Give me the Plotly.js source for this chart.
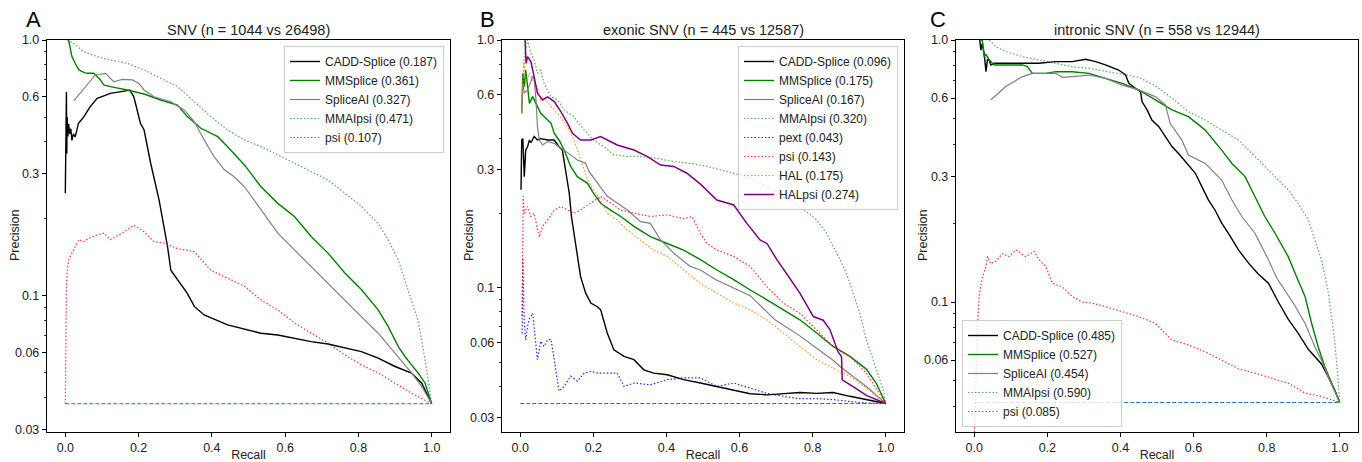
<!DOCTYPE html>
<html>
<head>
<meta charset="utf-8">
<script src="https://cdn.plot.ly/plotly-3.0.1.min.js"></script>
<style>html,body{margin:0;padding:0;background:#fff}#chart{width:1362px;height:462px}</style>
</head>
<body>
<div id="chart"></div>
<script>
// ---------------- data: Panel A (SNV) ----------------
const A_cadd_r = [0.0, 0.001, 0.002, 0.003, 0.004, 0.005, 0.007, 0.009, 0.012, 0.015, 0.018, 0.022, 0.027, 0.036, 0.050, 0.068, 0.087, 0.123, 0.169, 0.176, 0.187, 0.205, 0.215, 0.233, 0.256, 0.269, 0.279, 0.288, 0.306, 0.333, 0.352, 0.379, 0.443, 0.489, 0.534, 0.580, 0.671, 0.717, 0.763, 0.808, 0.854, 0.900, 0.945, 0.973, 1.0];
const A_cadd_p = [0.252, 0.52, 0.40, 0.628, 0.36, 0.50, 0.42, 0.47, 0.43, 0.45, 0.405, 0.43, 0.418, 0.473, 0.50, 0.549, 0.592, 0.619, 0.634, 0.638, 0.600, 0.473, 0.445, 0.330, 0.237, 0.187, 0.156, 0.126, 0.1155, 0.1024, 0.091, 0.0843, 0.0771, 0.0741, 0.0715, 0.0704, 0.0663, 0.0649, 0.0625, 0.0606, 0.0571, 0.0530, 0.0500, 0.0456, 0.0379];
const A_mms_r = [0.009, 0.014, 0.018, 0.027, 0.037, 0.046, 0.059, 0.078, 0.096, 0.105, 0.123, 0.169, 0.215, 0.260, 0.306, 0.333, 0.370, 0.416, 0.443, 0.489, 0.534, 0.580, 0.626, 0.671, 0.717, 0.763, 0.808, 0.854, 0.881, 0.909, 0.927, 0.945, 0.963, 0.982, 1.0];
const A_mms_p = [1.0, 0.914, 0.861, 0.811, 0.764, 0.752, 0.741, 0.741, 0.698, 0.667, 0.657, 0.638, 0.615, 0.583, 0.557, 0.502, 0.452, 0.419, 0.383, 0.325, 0.267, 0.230, 0.204, 0.1706, 0.147, 0.123, 0.106, 0.0882, 0.0760, 0.0634, 0.058, 0.0538, 0.050, 0.0456, 0.0379];
const A_sai_r = [0.023, 0.082, 0.110, 0.132, 0.155, 0.183, 0.201, 0.215, 0.242, 0.288, 0.324, 0.352, 0.379, 0.406, 0.434, 0.461, 0.489, 0.534, 0.580, 0.626, 0.671, 0.717, 0.763, 0.808, 0.854, 0.900, 0.945, 0.973, 1.0];
const A_sai_p = [0.578, 0.730, 0.741, 0.687, 0.702, 0.698, 0.677, 0.638, 0.600, 0.574, 0.533, 0.480, 0.407, 0.350, 0.311, 0.292, 0.267, 0.217, 0.176, 0.151, 0.130, 0.112, 0.0965, 0.0830, 0.0715, 0.0597, 0.0500, 0.0442, 0.0379];
const A_mai_r = [0.005, 0.023, 0.050, 0.087, 0.123, 0.169, 0.215, 0.260, 0.306, 0.352, 0.397, 0.443, 0.489, 0.534, 0.580, 0.626, 0.671, 0.717, 0.763, 0.808, 0.854, 0.881, 0.909, 0.927, 0.945, 0.963, 0.982, 0.991, 1.0];
const A_mai_p = [1.0, 0.970, 0.900, 0.861, 0.835, 0.811, 0.764, 0.708, 0.657, 0.574, 0.502, 0.445, 0.407, 0.383, 0.355, 0.330, 0.306, 0.284, 0.252, 0.224, 0.192, 0.166, 0.138, 0.1155, 0.095, 0.080, 0.0563, 0.047, 0.0379];
const A_psi_r = [0.0, 0.001, 0.002, 0.003, 0.005, 0.009, 0.018, 0.027, 0.037, 0.050, 0.064, 0.087, 0.105, 0.123, 0.160, 0.187, 0.215, 0.242, 0.269, 0.306, 0.352, 0.397, 0.443, 0.489, 0.534, 0.580, 0.626, 0.671, 0.717, 0.763, 0.808, 0.854, 0.900, 0.945, 1.0];
const A_psi_p = [0.0379, 0.060, 0.100, 0.106, 0.123, 0.138, 0.147, 0.156, 0.166, 0.163, 0.168, 0.173, 0.176, 0.166, 0.178, 0.189, 0.178, 0.163, 0.161, 0.153, 0.149, 0.126, 0.117, 0.109, 0.0965, 0.0882, 0.0783, 0.0715, 0.0654, 0.0588, 0.0538, 0.0500, 0.0456, 0.0417, 0.0379];
const A_base = 0.0379;

// ---------------- data: Panel B (exonic SNV) ----------------
const B_cadd_r = [0.002, 0.004, 0.007, 0.011, 0.015, 0.020, 0.025, 0.029, 0.038, 0.047, 0.056, 0.075, 0.093, 0.106, 0.115, 0.125, 0.134, 0.140, 0.147, 0.156, 0.165, 0.179, 0.193, 0.211, 0.220, 0.238, 0.256, 0.284, 0.311, 0.338, 0.365, 0.402, 0.447, 0.493, 0.538, 0.584, 0.629, 0.675, 0.720, 0.765, 0.811, 0.856, 0.902, 0.947, 1.0];
const B_cadd_p = [0.249, 0.395, 0.400, 0.281, 0.360, 0.371, 0.395, 0.385, 0.408, 0.395, 0.400, 0.395, 0.395, 0.371, 0.360, 0.290, 0.241, 0.194, 0.166, 0.138, 0.111, 0.0952, 0.0868, 0.0839, 0.0815, 0.0657, 0.0562, 0.0529, 0.0513, 0.0467, 0.0453, 0.0446, 0.0426, 0.0413, 0.0400, 0.0388, 0.0374, 0.0370, 0.0374, 0.0378, 0.0375, 0.0378, 0.0365, 0.0353, 0.03415];
const B_mms_r = [0.004, 0.007, 0.011, 0.015, 0.025, 0.034, 0.043, 0.056, 0.065, 0.084, 0.093, 0.106, 0.120, 0.138, 0.156, 0.184, 0.200, 0.220, 0.247, 0.275, 0.311, 0.356, 0.402, 0.447, 0.493, 0.538, 0.584, 0.629, 0.675, 0.720, 0.765, 0.811, 0.856, 0.902, 0.947, 0.975, 1.0];
const B_mms_p = [0.506, 0.734, 0.648, 0.757, 0.555, 0.591, 0.555, 0.506, 0.491, 0.462, 0.420, 0.395, 0.360, 0.309, 0.281, 0.264, 0.241, 0.2195, 0.206, 0.194, 0.177, 0.161, 0.151, 0.142, 0.130, 0.118, 0.108, 0.098, 0.0895, 0.0815, 0.0743, 0.0657, 0.058, 0.0529, 0.0470, 0.0410, 0.03415];
const B_sai_r = [0.004, 0.007, 0.011, 0.020, 0.034, 0.038, 0.043, 0.047, 0.052, 0.061, 0.075, 0.093, 0.106, 0.120, 0.138, 0.156, 0.179, 0.188, 0.211, 0.238, 0.265, 0.293, 0.329, 0.356, 0.384, 0.420, 0.465, 0.493, 0.534, 0.629, 0.697, 0.765, 0.811, 0.856, 0.879, 0.902, 0.947, 1.0];
const B_sai_p = [0.506, 0.669, 0.610, 0.629, 0.711, 0.700, 0.573, 0.447, 0.395, 0.377, 0.389, 0.383, 0.371, 0.360, 0.344, 0.328, 0.318, 0.295, 0.264, 0.234, 0.220, 0.206, 0.185, 0.182, 0.156, 0.138, 0.122, 0.118, 0.108, 0.093, 0.0743, 0.064, 0.057, 0.051, 0.0476, 0.045, 0.040, 0.03415];
const B_mai_r = [0.004, 0.011, 0.020, 0.029, 0.038, 0.047, 0.056, 0.065, 0.084, 0.102, 0.120, 0.147, 0.175, 0.200, 0.229, 0.256, 0.293, 0.329, 0.375, 0.420, 0.465, 0.511, 0.584, 0.629, 0.675, 0.720, 0.765, 0.811, 0.838, 0.856, 0.875, 0.893, 0.911, 0.929, 0.947, 0.965, 0.984, 0.993, 1.0];
const B_mai_p = [0.539, 0.857, 1.0, 0.884, 0.830, 0.734, 0.756, 0.669, 0.590, 0.573, 0.522, 0.490, 0.434, 0.395, 0.371, 0.344, 0.339, 0.339, 0.333, 0.323, 0.318, 0.309, 0.290, 0.277, 0.256, 0.234, 0.213, 0.188, 0.166, 0.147, 0.130, 0.114, 0.095, 0.079, 0.0617, 0.0513, 0.0426, 0.0388, 0.03415];
const B_pext_r = [0.005, 0.007, 0.011, 0.015, 0.020, 0.025, 0.034, 0.038, 0.047, 0.056, 0.065, 0.075, 0.084, 0.093, 0.106, 0.120, 0.138, 0.156, 0.175, 0.193, 0.211, 0.238, 0.265, 0.284, 0.311, 0.356, 0.402, 0.447, 0.493, 0.538, 0.584, 0.629, 0.675, 0.720, 0.765, 0.811, 0.856, 0.902, 0.947, 1.0];
const B_pext_p = [0.0655, 0.130, 0.072, 0.0617, 0.070, 0.075, 0.079, 0.070, 0.0513, 0.0609, 0.058, 0.0617, 0.062, 0.0513, 0.0383, 0.040, 0.044, 0.042, 0.0453, 0.046, 0.0453, 0.0453, 0.0453, 0.040, 0.0413, 0.0406, 0.0426, 0.0433, 0.0433, 0.040, 0.0413, 0.0394, 0.0375, 0.0365, 0.0357, 0.0357, 0.0354, 0.0348, 0.0343, 0.03415];
const B_psi_r = [0.005, 0.006, 0.008, 0.011, 0.015, 0.020, 0.029, 0.038, 0.052, 0.061, 0.075, 0.093, 0.111, 0.129, 0.147, 0.165, 0.193, 0.220, 0.247, 0.275, 0.311, 0.356, 0.402, 0.447, 0.470, 0.493, 0.511, 0.538, 0.584, 0.629, 0.675, 0.720, 0.765, 0.811, 0.856, 0.902, 0.947, 1.0];
const B_psi_p = [0.077, 0.130, 0.234, 0.200, 0.206, 0.213, 0.194, 0.200, 0.160, 0.177, 0.188, 0.206, 0.213, 0.206, 0.200, 0.206, 0.220, 0.234, 0.220, 0.206, 0.200, 0.194, 0.197, 0.190, 0.194, 0.166, 0.151, 0.142, 0.134, 0.122, 0.101, 0.0868, 0.079, 0.0677, 0.058, 0.0529, 0.0453, 0.03415];
const B_hal_r = [0.004, 0.007, 0.011, 0.015, 0.025, 0.034, 0.047, 0.056, 0.065, 0.084, 0.102, 0.115, 0.129, 0.147, 0.165, 0.184, 0.200, 0.220, 0.238, 0.265, 0.293, 0.329, 0.365, 0.402, 0.447, 0.493, 0.538, 0.584, 0.629, 0.675, 0.720, 0.765, 0.811, 0.856, 0.902, 0.947, 1.0];
const B_hal_p = [0.506, 0.711, 0.818, 0.669, 0.734, 0.690, 0.648, 0.573, 0.590, 0.539, 0.506, 0.476, 0.447, 0.395, 0.328, 0.272, 0.249, 0.226, 0.200, 0.188, 0.171, 0.156, 0.142, 0.134, 0.118, 0.104, 0.0952, 0.0868, 0.0815, 0.0743, 0.0657, 0.058, 0.0513, 0.0474, 0.0439, 0.0394, 0.03415];
const B_halpsi_r = [0.013, 0.016, 0.020, 0.029, 0.036, 0.047, 0.061, 0.075, 0.093, 0.111, 0.129, 0.143, 0.165, 0.193, 0.220, 0.265, 0.311, 0.347, 0.384, 0.420, 0.456, 0.493, 0.538, 0.584, 0.620, 0.656, 0.675, 0.702, 0.729, 0.765, 0.802, 0.829, 0.847, 0.870, 0.879, 0.881, 0.915, 0.947, 1.0];
const B_halpsi_p = [1.0, 0.805, 0.857, 0.818, 0.734, 0.610, 0.573, 0.590, 0.564, 0.514, 0.462, 0.420, 0.395, 0.395, 0.408, 0.377, 0.360, 0.339, 0.313, 0.309, 0.290, 0.262, 0.226, 0.216, 0.182, 0.156, 0.151, 0.130, 0.114, 0.0952, 0.0766, 0.074, 0.068, 0.055, 0.0528, 0.0425, 0.0396, 0.0368, 0.03415];
const B_base = 0.03415;

// ---------------- data: Panel C (intronic SNV) ----------------
const C_cadd_r = [0.015, 0.018, 0.022, 0.027, 0.032, 0.036, 0.041, 0.045, 0.055, 0.086, 0.132, 0.177, 0.223, 0.268, 0.305, 0.332, 0.359, 0.395, 0.414, 0.423, 0.441, 0.455, 0.459, 0.473, 0.486, 0.505, 0.523, 0.541, 0.559, 0.586, 0.605, 0.623, 0.641, 0.659, 0.677, 0.695, 0.723, 0.750, 0.777, 0.805, 0.832, 0.859, 0.886, 0.914, 0.932, 0.950, 0.968, 0.986, 1.0];
const C_cadd_p = [1.0, 0.916, 0.97, 0.889, 0.757, 0.84, 0.839, 0.803, 0.815, 0.815, 0.815, 0.815, 0.827, 0.827, 0.844, 0.827, 0.803, 0.768, 0.735, 0.683, 0.654, 0.635, 0.582, 0.541, 0.495, 0.467, 0.428, 0.392, 0.369, 0.333, 0.310, 0.275, 0.245, 0.224, 0.200, 0.183, 0.158, 0.141, 0.128, 0.118, 0.100, 0.086, 0.076, 0.066, 0.062, 0.058, 0.052, 0.0462, 0.04133];
const C_mms_r = [0.014, 0.022, 0.027, 0.032, 0.041, 0.055, 0.086, 0.132, 0.145, 0.159, 0.195, 0.223, 0.268, 0.314, 0.359, 0.405, 0.450, 0.495, 0.541, 0.586, 0.632, 0.677, 0.705, 0.741, 0.768, 0.795, 0.823, 0.859, 0.886, 0.905, 0.923, 0.941, 0.959, 0.977, 1.0];
const C_mms_p = [1.0, 1.0, 0.864, 0.88, 0.839, 0.803, 0.803, 0.803, 0.791, 0.746, 0.746, 0.757, 0.757, 0.746, 0.714, 0.683, 0.645, 0.590, 0.541, 0.510, 0.453, 0.380, 0.338, 0.301, 0.252, 0.212, 0.183, 0.149, 0.121, 0.105, 0.083, 0.0675, 0.0567, 0.049, 0.04133];
const C_sai_r = [0.045, 0.086, 0.132, 0.159, 0.223, 0.241, 0.268, 0.314, 0.359, 0.405, 0.450, 0.495, 0.523, 0.536, 0.568, 0.586, 0.632, 0.677, 0.705, 0.732, 0.768, 0.805, 0.827, 0.841, 0.877, 0.905, 0.932, 0.950, 0.968, 1.0];
const C_sai_p = [0.590, 0.664, 0.725, 0.746, 0.746, 0.720, 0.725, 0.735, 0.714, 0.673, 0.645, 0.608, 0.565, 0.481, 0.415, 0.364, 0.338, 0.292, 0.245, 0.212, 0.183, 0.145, 0.124, 0.116, 0.097, 0.083, 0.0675, 0.060, 0.052, 0.04133];
const C_mai_r = [0.041, 0.059, 0.086, 0.132, 0.177, 0.223, 0.268, 0.314, 0.359, 0.405, 0.450, 0.495, 0.541, 0.586, 0.632, 0.677, 0.723, 0.768, 0.814, 0.859, 0.886, 0.914, 0.932, 0.950, 0.968, 0.977, 0.986, 0.994, 1.0];
const C_mai_p = [1.0, 0.943, 0.903, 0.864, 0.839, 0.815, 0.791, 0.780, 0.760, 0.740, 0.720, 0.670, 0.600, 0.533, 0.495, 0.453, 0.415, 0.359, 0.310, 0.268, 0.238, 0.206, 0.172, 0.145, 0.111, 0.0905, 0.0716, 0.0535, 0.04133];
const C_psi_r = [0.0, 0.006, 0.009, 0.014, 0.018, 0.023, 0.032, 0.036, 0.045, 0.059, 0.077, 0.095, 0.114, 0.141, 0.164, 0.177, 0.195, 0.214, 0.241, 0.268, 0.295, 0.323, 0.359, 0.405, 0.450, 0.495, 0.541, 0.586, 0.632, 0.677, 0.723, 0.768, 0.814, 0.859, 0.905, 0.950, 1.0];
const C_psi_p = [0.030, 0.0619, 0.083, 0.108, 0.114, 0.125, 0.137, 0.149, 0.140, 0.143, 0.153, 0.149, 0.158, 0.149, 0.156, 0.145, 0.137, 0.118, 0.114, 0.105, 0.100, 0.099, 0.096, 0.092, 0.088, 0.083, 0.0716, 0.0686, 0.0645, 0.060, 0.0556, 0.0535, 0.0512, 0.049, 0.0449, 0.0436, 0.04133];
const C_base = 0.04133;

// ---------------- labels ----------------
const panelLetters = ['A', 'B', 'C'];
const panelTitles = ['SNV (n = 1044 vs 26498)', 'exonic SNV (n = 445 vs 12587)', 'intronic SNV (n = 558 vs 12944)'];
const A_names = ['CADD-Splice (0.187)', 'MMSplice (0.361)', 'SpliceAI (0.327)', 'MMAIpsi (0.471)', 'psi (0.107)'];
const B_names = ['CADD-Splice (0.096)', 'MMSplice (0.175)', 'SpliceAI (0.167)', 'MMAIpsi (0.320)', 'pext (0.043)', 'psi (0.143)', 'HAL (0.175)', 'HALpsi (0.274)'];
const C_names = ['CADD-Splice (0.485)', 'MMSplice (0.527)', 'SpliceAI (0.454)', 'MMAIpsi (0.590)', 'psi (0.085)'];
const xTitle = 'Recall';
const yTitle = 'Precision';
const xTickVals = [0, 0.2, 0.4, 0.6, 0.8, 1.0];
const yTickVals = [0.03, 0.06, 0.1, 0.3, 0.6, 1.0];
const yTickText = ['0.03', '0.06', '0.1', '0.3', '0.6', '1.0'];
const yMinorVals = [0.02, 0.04, 0.05, 0.07, 0.08, 0.09, 0.2, 0.4, 0.5, 0.7, 0.8, 0.9];
const baseRecall = [0, 1];

// ---------------- styles ----------------
const DOT = '1.5px,2px';
const S = {
  cadd:   {color: '#000000', width: 1.4, dash: 'solid'},
  mms:    {color: '#008000', width: 1.4, dash: 'solid'},
  sai:    {color: '#808080', width: 1.2, dash: 'solid'},
  mai:    {color: 'rgba(20,150,20,0.75)', width: 1.2, dash: DOT},
  psi:    {color: 'rgba(255,0,0,0.8)', width: 1.2, dash: DOT},
  pext:   {color: 'rgba(0,0,255,0.85)', width: 1.2, dash: DOT},
  hal:    {color: 'rgba(255,127,14,0.85)', width: 1.2, dash: DOT},
  halpsi: {color: '#800080', width: 1.5, dash: 'solid'},
  base:   {color: '#1f77b4', width: 1.1, dash: '4px,2px'}
};

function tr(x, y, name, st, k, leg) {
  return {
    type: 'scatter', mode: 'lines', x: x, y: y, name: name,
    line: {color: st.color, width: st.width, dash: st.dash},
    xaxis: 'x' + (k === 1 ? '' : k), yaxis: 'y' + (k === 1 ? '' : k),
    legend: leg || 'legend', showlegend: !!leg, hoverinfo: 'skip'
  };
}

const traces = [
  tr(A_cadd_r, A_cadd_p, A_names[0], S.cadd, 1, 'legend'),
  tr(A_mms_r, A_mms_p, A_names[1], S.mms, 1, 'legend'),
  tr(A_sai_r, A_sai_p, A_names[2], S.sai, 1, 'legend'),
  tr(A_mai_r, A_mai_p, A_names[3], S.mai, 1, 'legend'),
  tr(A_psi_r, A_psi_p, A_names[4], S.psi, 1, 'legend'),
  tr(baseRecall, [A_base, A_base], '', S.base, 1, null),

  tr(B_cadd_r, B_cadd_p, B_names[0], S.cadd, 2, 'legend2'),
  tr(B_mms_r, B_mms_p, B_names[1], S.mms, 2, 'legend2'),
  tr(B_sai_r, B_sai_p, B_names[2], S.sai, 2, 'legend2'),
  tr(B_mai_r, B_mai_p, B_names[3], S.mai, 2, 'legend2'),
  tr(B_pext_r, B_pext_p, B_names[4], S.pext, 2, 'legend2'),
  tr(B_psi_r, B_psi_p, B_names[5], S.psi, 2, 'legend2'),
  tr(B_hal_r, B_hal_p, B_names[6], S.hal, 2, 'legend2'),
  tr(B_halpsi_r, B_halpsi_p, B_names[7], S.halpsi, 2, 'legend2'),
  tr(baseRecall, [B_base, B_base], '', S.base, 2, null),

  tr(C_cadd_r, C_cadd_p, C_names[0], S.cadd, 3, 'legend3'),
  tr(C_mms_r, C_mms_p, C_names[1], S.mms, 3, 'legend3'),
  tr(C_sai_r, C_sai_p, C_names[2], S.sai, 3, 'legend3'),
  tr(C_mai_r, C_mai_p, C_names[3], S.mai, 3, 'legend3'),
  tr(C_psi_r, C_psi_p, C_names[4], S.psi, 3, 'legend3'),
  tr(baseRecall, [C_base, C_base], '', S.base, 3, null)
];

const W = 1362, H = 462;
const FONT = 'Liberation Sans, Arial, sans-serif';
const xDomains = [[47 / W, 450 / W], [502 / W, 904 / W], [956 / W, 1358 / W]];
const yDomain = [1 - 432 / H, 1 - 40 / H];
const yBottoms = [0.0294, 0.0262, 0.0319];

function xax(i) {
  return {
    domain: xDomains[i], anchor: 'y' + (i === 0 ? '' : i + 1), range: [-0.05, 1.05],
    tickmode: 'array', tickvals: xTickVals, tickformat: '.1f',
    ticks: 'outside', ticklen: 4, tickwidth: 1, tickcolor: '#000',
    showline: true, mirror: true, linecolor: '#000', linewidth: 1.2,
    showgrid: false, zeroline: false, automargin: false,
    tickfont: {size: 12.5, color: '#222', family: FONT},
    title: {text: xTitle, font: {size: 12.5, color: '#222', family: FONT}, standoff: 2}
  };
}
function yax(i) {
  return {
    domain: yDomain, anchor: 'x' + (i === 0 ? '' : i + 1), type: 'log',
    range: [Math.log10(yBottoms[i]), 0],
    tickmode: 'array', tickvals: yTickVals, ticktext: yTickText,
    ticks: 'outside', ticklen: 4, tickwidth: 1, tickcolor: '#000',
    minor: {tickmode: 'array', tickvals: yMinorVals, ticks: 'outside', ticklen: 2, tickwidth: 0.8, tickcolor: '#000', showgrid: false},
    showline: true, mirror: true, linecolor: '#000', linewidth: 1.2,
    showgrid: false, zeroline: false, automargin: false,
    tickfont: {size: 12.5, color: '#222', family: FONT},
    title: {text: ''}
  };
}

const legBase = {
  bgcolor: 'rgba(255,255,255,0.8)', bordercolor: '#cccccc', borderwidth: 1,
  font: {size: 12, color: '#222', family: FONT}, tracegroupgap: 0, itemwidth: 30,
  xref: 'paper', yref: 'paper'
};

const annotations = [];
const letterX = [33, 487, 938];
const yTitleX = [15, 469, 923];
for (let i = 0; i < 3; i++) {
  annotations.push({text: panelLetters[i], x: letterX[i] / W, y: 1 - 20 / H, xref: 'paper', yref: 'paper',
    xanchor: 'center', yanchor: 'middle', showarrow: false, font: {size: 22, color: '#000', family: FONT}});
  const cx = (xDomains[i][0] + xDomains[i][1]) / 2;
  annotations.push({text: panelTitles[i], x: cx, y: 1 - 30 / H, xref: 'paper', yref: 'paper',
    xanchor: 'center', yanchor: 'middle', showarrow: false, font: {size: 14.5, color: '#222', family: FONT}});
  annotations.push({text: yTitle, x: yTitleX[i] / W, y: (yDomain[0] + yDomain[1]) / 2, xref: 'paper', yref: 'paper',
    xanchor: 'center', yanchor: 'middle', textangle: -90, showarrow: false, font: {size: 12.5, color: '#222', family: FONT}});
}

const layout = {
  width: W, height: H, margin: {l: 0, r: 0, t: 0, b: 0},
  paper_bgcolor: '#fff', plot_bgcolor: '#fff',
  font: {family: FONT, color: '#222'},
  xaxis: xax(0), yaxis: yax(0), xaxis2: xax(1), yaxis2: yax(1), xaxis3: xax(2), yaxis3: yax(2),
  legend: Object.assign({}, legBase, {x: 444 / W, y: 1 - 46 / H, xanchor: 'right', yanchor: 'top'}),
  legend2: Object.assign({}, legBase, {x: 898 / W, y: 1 - 46 / H, xanchor: 'right', yanchor: 'top'}),
  legend3: Object.assign({}, legBase, {x: 962 / W, y: 1 - 427 / H, xanchor: 'left', yanchor: 'bottom'}),
  annotations: annotations,
  showlegend: true
};

Plotly.newPlot('chart', traces, layout, {displayModeBar: false, staticPlot: true});
</script>
</body>
</html>
